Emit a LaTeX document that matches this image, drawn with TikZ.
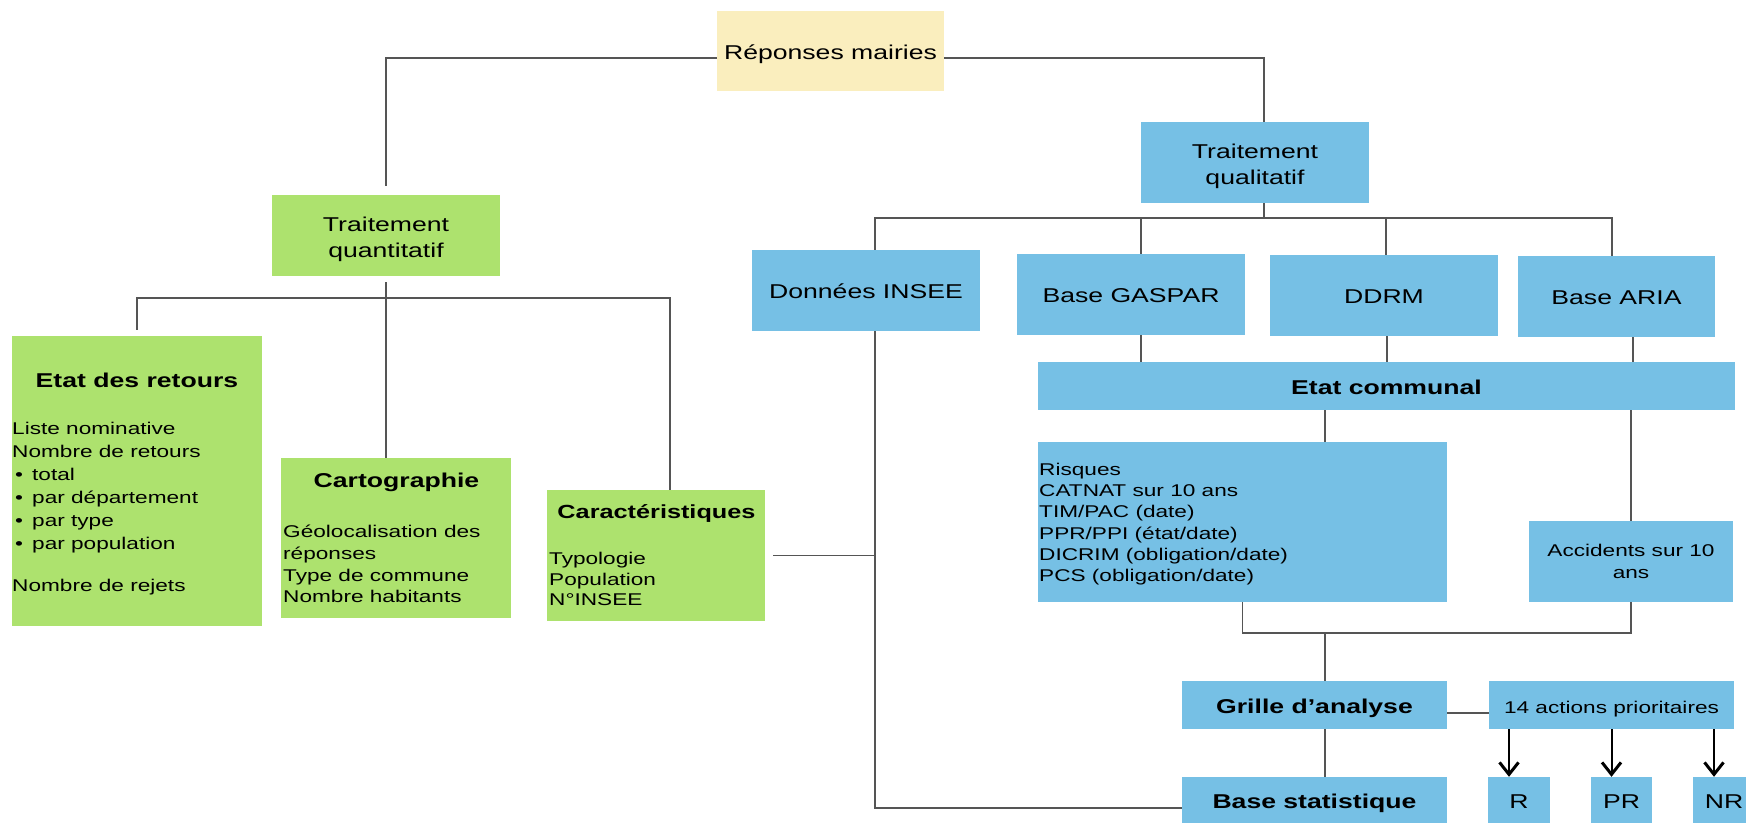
\documentclass[tikz,border=0pt]{standalone}
\usepackage{fontspec}
\setmainfont{Liberation Sans}[FakeStretch=1.33]
\usetikzlibrary{arrows.meta}
\definecolor{quantgreen}{HTML}{ADE26E}
\definecolor{qualblue}{HTML}{76C0E5}
\definecolor{rootyellow}{HTML}{FAEEBE}
\definecolor{wire}{HTML}{555555}
\newcommand\titlesize{\fontsize{20}{26.7}\selectfont}
\newcommand\listsize{\fontsize{17}{21.5}\selectfont}
\newcommand\itembul{\makebox[20pt][l]{\hspace{3pt}•}}

\begin{document}
\begin{tikzpicture}[
    x=1pt, y=-1pt,
    box/.style={rectangle, inner sep=0pt, font=\titlesize, align=center, text height=16pt, text depth=0pt},
    multi/.style={text height={}, text depth={}},
    root/.style={box, fill=rootyellow},
    quant/.style={box, fill=quantgreen},
    qual/.style={box, fill=qualblue},
    head/.style={inner sep=0pt, font=\titlesize\bfseries},
    txt/.style={inner sep=0pt, font=\listsize, align=left, anchor=north west},
    link/.style={draw=wire, line width=1.3pt},
    push/.style={draw=black, line width=2pt, -{Straight Barb[length=12pt, width=19pt, line width=3pt]}}
]
\path[use as bounding box, fill=white] (0,0) rectangle (1746,823);

% The root
\node[root, minimum width=227pt, minimum height=80pt] (rep) at (830.5,51) {Réponses mairies};

% Two treatments
\node[quant, multi, minimum width=228pt, minimum height=81pt] (tquant) at (386,235.5) {\rule{0pt}{22pt}Traitement\\quantitatif};
\node[qual, multi, minimum width=228pt, minimum height=81pt] (tqual) at (1255,162.5) {\rule{0pt}{22pt}Traitement\\qualitatif};
\draw[link, shorten >=9pt] ([yshift=-7pt]rep.west) -| (tquant.north);
\draw[link] ([yshift=-7pt]rep.east) -| ([xshift=9pt]tqual.north);

% Quantitative branch
\node[quant, minimum width=250pt, minimum height=290pt] (etat) at (137,481) {};
\node[head] (etat-t) at (137,380) {Etat des retours};
\node[txt, font=\fontsize{17}{23}\selectfont] (etat-l) at (12,422)
    {Liste nominative\\Nombre de retours\\\itembul total\\\itembul par département\\\itembul par type\\\itembul par population\\[19pt]Nombre de rejets};

\node[quant, minimum width=230pt, minimum height=160pt] (carto) at (396,538) {};
\node[head] (carto-t) at (396.5,482) {Cartographie};
\node[txt, font=\fontsize{17}{21.7}\selectfont] (carto-l) at (283,525)
    {Géolocalisation des\\réponses\\Type de commune\\Nombre habitants};

\node[quant, minimum width=218pt, minimum height=131pt] (caract) at (656,555.5) {};
\node[head, font=\fontsize{19}{24}\selectfont\bfseries] (caract-t) at (656.5,513) {Caractéristiques};
\node[txt, font=\fontsize{17}{20.5}\selectfont] (caract-l) at (549,552)
    {Typologie\\Population\\N°INSEE};

% Links quantitative
\coordinate (qbus) at (386,298);
\draw[link, shorten <=6pt] (tquant.south) -- (tquant.south |- carto.north);
\draw[link, shorten <=6pt] (etat.north) |- (qbus) -| ([xshift=14pt]caract.north);

% Qualitative branch: sources
\node[qual, minimum width=228pt, minimum height=81pt] (insee) at (866,290.5) {Données INSEE};
\node[qual, minimum width=228pt, minimum height=81pt] (gaspar) at (1131,294.5) {Base GASPAR};
\node[qual, minimum width=228pt, minimum height=81pt] (ddrm) at (1384,295.5) {DDRM};
\node[qual, minimum width=197pt, minimum height=81pt] (aria) at (1616.5,296.5) {Base ARIA};

% Links qualitative -> sources
\coordinate (lbus) at (1264,218);
\draw[link] (tqual.south -| lbus) -- (lbus);
\draw[link] ([xshift=9pt]insee.north) |- ([xshift=-4.5pt]aria.north |- lbus) -- ([xshift=-4.5pt]aria.north);
\draw[link] ([xshift=10pt]gaspar.north) -- ([xshift=10pt]gaspar.north |- lbus);
\draw[link] ([xshift=2pt]ddrm.north) -- ([xshift=2pt]ddrm.north |- lbus);

% Etat communal
\node[qual, font=\titlesize\bfseries, minimum width=697pt, minimum height=48pt] (etatcom) at (1386.5,386) {Etat communal};
\draw[link] ([xshift=10pt]gaspar.south) -- ([xshift=10pt]gaspar.south |- etatcom.north);
\draw[link] ([xshift=3pt]ddrm.south) -- ([xshift=3pt]ddrm.south |- etatcom.north);
\draw[link] ([xshift=16.5pt]aria.south) -- ([xshift=16.5pt]aria.south |- etatcom.north);

% Risks and accidents
\node[qual, minimum width=409pt, minimum height=160pt] (risques) at (1242.5,522) {};
\node[txt, font=\fontsize{17}{21.2}\selectfont] (risques-l) at (1039,463)
    {Risques\\CATNAT sur 10 ans\\TIM/PAC (date)\\PPR/PPI (état/date)\\DICRIM (obligation/date)\\PCS (obligation/date)};
\node[qual, multi, font=\listsize, minimum width=204pt, minimum height=81pt] (accid) at (1631,561.5) {Accidents sur 10\\ans};
\draw[link] ([xshift=82.5pt]risques.north |- etatcom.south) -- ([xshift=82.5pt]risques.north);
\draw[link] (accid.north |- etatcom.south) -- (accid.north);

% Analysis grid
\coordinate (merge) at (1325,633);
\draw[link] (risques.south) |- (merge) -| (accid.south);
\node[qual, font=\titlesize\bfseries, minimum width=265pt, minimum height=48pt] (grille) at (1314.5,705) {Grille d’analyse};
\node[qual, font=\listsize, minimum width=245pt, minimum height=48pt] (actions) at (1611.5,705) {14 actions prioritaires};
\draw[link] (merge) -- (merge |- grille.north);
\draw[link] ([yshift=-8pt]grille.east) -- ([yshift=-8pt]grille.east -| actions.west);

% Statistical base and outcomes
\node[qual, font=\titlesize\bfseries, minimum width=265pt, minimum height=46pt] (basestat) at (1314.5,800) {Base statistique};
\node[qual, minimum width=62pt, minimum height=46pt] (r) at (1519,800) {R};
\node[qual, minimum width=61pt, minimum height=46pt] (pr) at (1621.5,800) {PR};
\node[qual, minimum width=62pt, minimum height=46pt] (nr) at (1724,800) {NR};
\draw[link] (merge |- grille.south) -- (merge |- basestat.north);
\draw[link] ([xshift=9pt]insee.south) |- ([yshift=-8pt]basestat.west);
\draw[link, shorten <=8pt] (caract.east) -- ([xshift=9pt]insee.south |- caract.east);

% Arrows to outcomes
\draw[push] ([xshift=-10pt]r.north |- actions.south) -- ([xshift=-10pt]r.north);
\draw[push] ([xshift=-10pt]pr.north |- actions.south) -- ([xshift=-10pt]pr.north);
\draw[push] ([xshift=-10pt]nr.north |- actions.south) -- ([xshift=-10pt]nr.north);

\end{tikzpicture}
\end{document}
